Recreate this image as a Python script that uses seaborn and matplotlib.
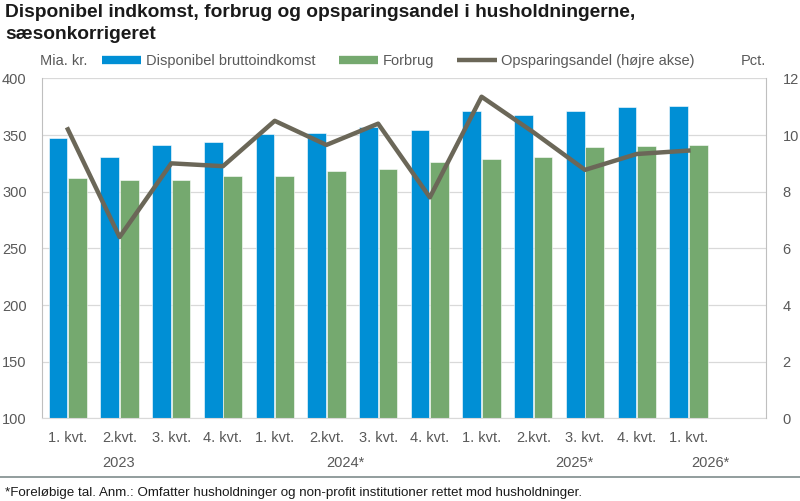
import numpy as np
import pandas as pd
import matplotlib
matplotlib.use('Agg')
from matplotlib import pyplot as plt
from matplotlib.lines import Line2D
import matplotlib.transforms as mtransforms
import seaborn as sns

# data
quarters = ['1. kvt.', '2.kvt.', '3. kvt.', '4. kvt.',
            '1. kvt.', '2.kvt.', '3. kvt.', '4. kvt.',
            '1. kvt.', '2.kvt.', '3. kvt.', '4. kvt.',
            '1. kvt.']
years = ['2023', '2024*', '2025*', '2026*']
year_pos = [0.99, 5.36, 9.79, 12.42]
income = [347, 331, 341, 344, 351, 352, 357, 354, 371, 368, 371, 375, 376]
consumption = [312, 310, 310, 314, 314, 318, 320, 326, 329, 331, 339, 340, 341]
savings = [10.2, 6.4, 9.0, 8.9, 10.5, 9.65, 10.4, 7.8, 11.35, 10.1, 8.77, 9.33, 9.45]

s_income = 'Disponibel bruttoindkomst'
s_cons = 'Forbrug'
s_save = 'Opsparingsandel (højre akse)'
blue = '#008FD5'
green = '#75A96F'
grey_line = '#6B6758'
txt = '#595959'

plt.rcParams['font.family'] = ['Liberation Sans', 'DejaVu Sans']

n = len(quarters)
keys = ['q%d' % i for i in range(n)]
df = pd.DataFrame({
    'key': keys * 2,
    'value': income + consumption,
    'serie': [s_income] * n + [s_cons] * n,
})

fig = plt.figure(figsize=(8, 5.01), dpi=100)
ax = fig.add_axes([0.0525, 0.1647, 0.905, 0.679])

sns.barplot(data=df, x='key', y='value', hue='serie', order=keys,
            palette=[blue, green], width=0.76, gap=0.05, ax=ax,
            legend=False, saturation=1, edgecolor='white', linewidth=0.4)

ax2 = ax.twinx()
sns.lineplot(x=np.arange(n), y=savings, ax=ax2, color=grey_line, lw=3.2)

ax.set_xlim(-0.5, n + 0.5)
ax.set_ylim(100, 400)
ax.set_yticks(range(100, 401, 50))
ax2.set_ylim(0, 12)
ax2.set_yticks(range(0, 13, 2))

ax.set_xlabel('')
ax.set_ylabel('')
ax2.set_ylabel('')
ax.set_xticks(range(n))
ax.set_xticklabels(quarters)
off = mtransforms.ScaledTranslation(-13 / 100, 0, fig.dpi_scale_trans)
for lab in ax.get_xticklabels():
    lab.set_transform(lab.get_transform() + off)

ax.grid(axis='y', color='#D9D9D9', lw=0.9)
ax.set_axisbelow(True)
for a in (ax, ax2):
    a.tick_params(length=0, labelsize=10.5, labelcolor=txt)
    for s in a.spines.values():
        s.set_visible(False)
ax.tick_params(axis='y', pad=11)
ax.tick_params(axis='x', pad=9)
ax2.tick_params(axis='y', pad=12)
ax.spines['left'].set_visible(True)
ax.spines['left'].set_color('#BFBFBF')
ax.spines['bottom'].set_visible(True)
ax.spines['bottom'].set_color('#D9D9D9')
ax2.spines['right'].set_visible(True)
ax2.spines['right'].set_color('#BFBFBF')

tr = mtransforms.blended_transform_factory(ax.transData, ax.transAxes)
for y, xp in zip(years, year_pos):
    ax.text(xp, -0.13, y, transform=tr, ha='center', va='center',
            fontsize=10.5, color=txt)

fig.text(0.006, 0.992, 'Disponibel indkomst, forbrug og opsparingsandel i husholdningerne,\nsæsonkorrigeret',
         ha='left', va='top', fontsize=13.8, fontweight='bold', color='#1a1a1a',
         linespacing=1.4)
fig.text(40 / 800, 1 - 61 / 501, 'Mia. kr.', ha='left', va='center',
         fontsize=10.5, color=txt)
fig.text(766 / 800, 1 - 61 / 501, 'Pct.', ha='right', va='center',
         fontsize=10.5, color=txt)

handles = [Line2D([], [], color=blue, lw=6, solid_capstyle='butt'),
           Line2D([], [], color=green, lw=6, solid_capstyle='butt'),
           Line2D([], [], color=grey_line, lw=3.2, solid_capstyle='butt')]
fig.legend(handles, [s_income, s_cons, s_save], loc='center left',
           bbox_to_anchor=(102 / 800, 1 - 61 / 501), ncol=3, frameon=False,
           fontsize=10.5, labelcolor=txt, handlelength=2.7, handletextpad=0.3,
           columnspacing=1.6, borderpad=0, borderaxespad=0)

fig.add_artist(Line2D([0, 1], [1 - 477 / 501, 1 - 477 / 501],
                      transform=fig.transFigure, color='#7F8C8C', lw=1.2))
fig.text(0.006, 1 - 493 / 501,
         '*Foreløbige tal. Anm.: Omfatter husholdninger og non-profit institutioner rettet mod husholdninger.',
         ha='left', va='center', fontsize=9.6, color='#1a1a1a')

fig.savefig('out.png', dpi=100)
